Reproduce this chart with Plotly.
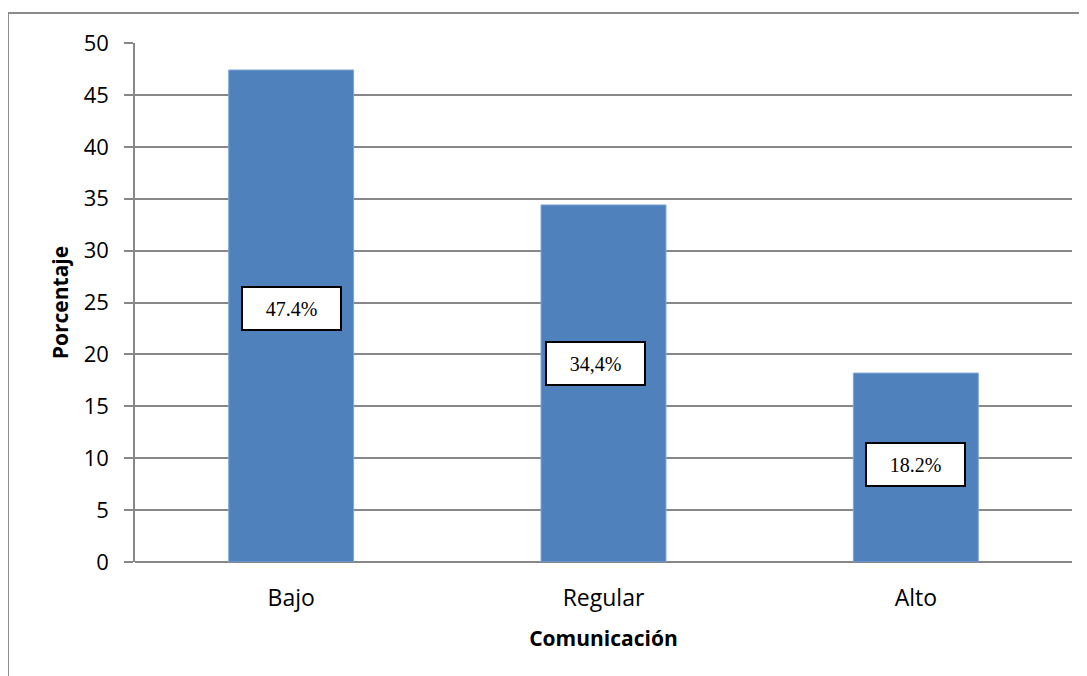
import plotly.graph_objects as go

categories = ["Bajo", "Regular", "Alto"]
values = [47.4, 34.4, 18.2]
labels = ["47.4%", "34,4%", "18.2%"]
label_y = [24.4, 19.1, 9.4]
label_dx = [0.0, -0.027, 0.0]

OFF = 8  # page body margin
W, H = 1087 - OFF, 676 - OFF
L, R, T, B = 135 - OFF, 15, 43 - OFF, 114
pw, ph = W - L - R, H - T - B

fig = go.Figure()
fig.add_trace(go.Bar(
    x=categories, y=values, width=0.4,
    marker=dict(color="#4F81BD", line=dict(color="#7FA6D8", width=1)),
    hoverinfo="skip",
))

for i, (lab, ly) in enumerate(zip(labels, label_y)):
    fig.add_annotation(
        x=i + label_dx[i], y=ly, xref="x", yref="y", text=lab, showarrow=False,
        font=dict(family="Liberation Serif, Times New Roman, serif", size=20, color="#000"),
        bgcolor="white", bordercolor="black", borderwidth=2, borderpad=0,
        width=97, height=41, align="center", valign="middle",
    )

# outer chart border (page pixels -> paper coords)
def px_x(p):
    return (p - OFF - L) / pw

def px_y(p):
    return (OFF + T + ph - p) / ph

fig.add_shape(type="rect", xref="paper", yref="paper",
              x0=px_x(8), x1=px_x(1095), y0=px_y(690), y1=px_y(13),
              line=dict(color="#8C8C8C", width=2), fillcolor="rgba(0,0,0,0)", layer="below")

fig.update_layout(
    width=W, height=H,
    margin=dict(l=L, r=R, t=T, b=B),
    paper_bgcolor="white", plot_bgcolor="white",
    showlegend=False,
    font=dict(family="Open Sans, DejaVu Sans, sans-serif", color="#000"),
)
fig.update_xaxes(
    range=[-0.5, 2.5], showgrid=False, showline=False, ticks="",
    tickfont=dict(size=23), ticklabelstandoff=20,
    title=dict(text="<b>Comunicación</b>", font=dict(size=21), standoff=19),
)
fig.update_yaxes(
    range=[0, 50], dtick=5, showgrid=True, gridcolor="#878787", gridwidth=1.5,
    showline=True, linecolor="#878787", linewidth=1.5,
    ticks="outside", ticklen=9, tickcolor="#878787", tickwidth=1.5,
    tickfont=dict(size=22), ticklabelstandoff=11,
    zeroline=True, zerolinecolor="#878787", zerolinewidth=1.5,
    title=dict(text="<b>Porcentaje</b>", font=dict(size=21), standoff=9),
)

fig.write_html("out.html")
